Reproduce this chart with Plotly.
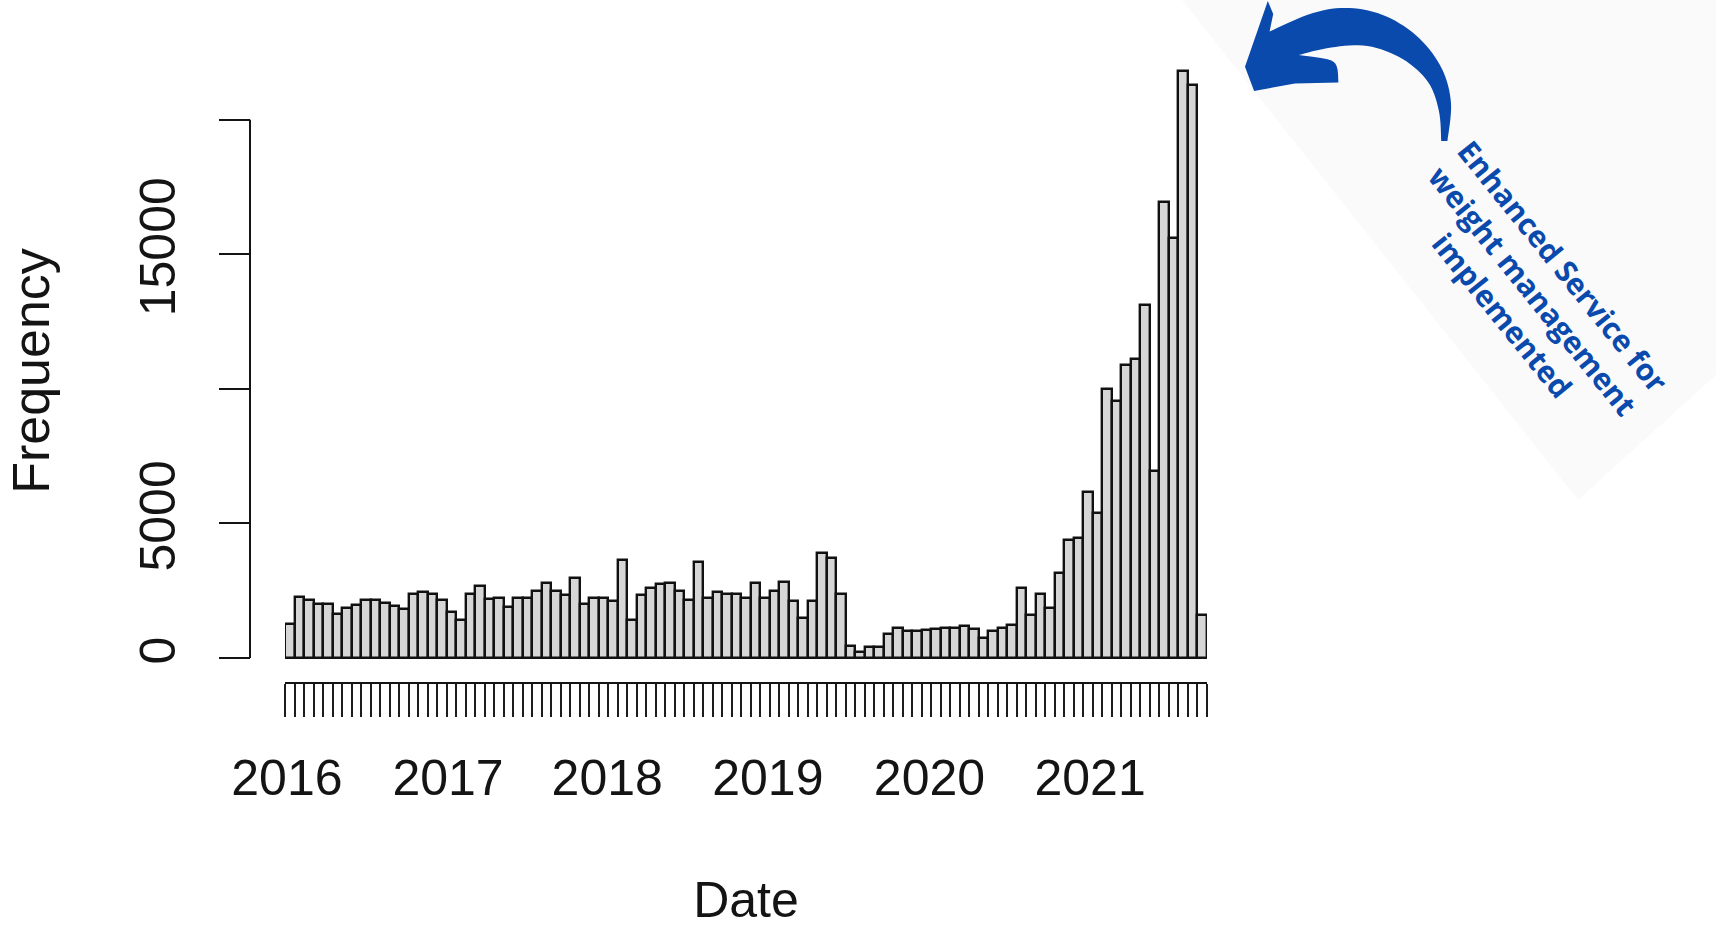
import numpy as np
import plotly.graph_objects as go

# ---------------- data ----------------
counts = [1270, 2270, 2140, 2020, 2020, 1640, 1840, 1970, 2140, 2140,
          2060, 1920, 1820, 2360, 2450, 2360, 2140, 1700, 1400, 2370,
          2680, 2190, 2220, 1890, 2240, 2240, 2490, 2800, 2500, 2350,
          2970, 2000, 2220, 2220, 2130, 3630, 1400, 2350, 2610, 2740,
          2800, 2490, 2170, 3580, 2220, 2470, 2390, 2360, 2240, 2780,
          2220, 2480, 2810, 2120, 1500, 2100, 3900, 3720, 2390, 460,
          235, 390, 390, 890, 1100, 1020, 1000, 1040, 1070, 1100,
          1130, 1180, 1090, 755, 1000, 1110, 1240, 2600, 1600, 2360,
          1860, 3160, 4400, 4470, 6170, 5400, 10010, 9540, 10880, 11110,
          13130, 6940, 16940, 15610, 21800, 21270, 1610]
year_labels = ["2016", "2017", "2018", "2019", "2020", "2021"]
year_positions = [0.2, 17.15, 33.9, 50.8, 67.8, 84.7]   # in bin units
ytick_vals = [0, 5000, 10000, 15000, 20000]
ytick_text = ["0", "5000", "", "15000", ""]
annotation_lines = ["Enhanced Service for", "weight management", "implemented"]

W, H = 1716, 928
def px(x):
    return x / W
def py(y):
    return 1 - y / H

n = len(counts)
x_centres = np.arange(n) + 0.5

FONT = "Liberation Sans, Arial, Helvetica, sans-serif"
INK = "#141414"
BLUE = "#0a4aad"

fig = go.Figure()
fig.add_trace(go.Bar(
    x=x_centres, y=counts, width=1.0,
    marker=dict(color="#d6d6d6", line=dict(color="#111111", width=2.4)),
    showlegend=False, hoverinfo="x+y",
))

# ---------------- decorations ----------------
# faint background band behind the note
band = [(1182, 0), (1716, 0), (1716, 375), (1578, 500)]
path = "M " + " L ".join(f"{px(a):.5f},{py(b):.5f}" for a, b in band) + " Z"
fig.add_shape(type="path", path=path, xref="paper", yref="paper",
              fillcolor="#fafafb", line=dict(width=0), layer="below")

# curved arrow (catmull-rom smoothed outline)
def smooth(pts, steps=8):
    out = []
    P = [pts[0]] + pts + [pts[-1]]
    for i in range(1, len(P) - 2):
        p0, p1, p2, p3 = map(np.array, P[i - 1:i + 3])
        for t in np.linspace(0, 1, steps, endpoint=False):
            t2, t3 = t * t, t * t * t
            pt = 0.5 * ((2 * p1) + (-p0 + p2) * t + (2 * p0 - 5 * p1 + 4 * p2 - p3) * t2
                        + (-p0 + 3 * p1 - 3 * p2 + p3) * t3)
            out.append(tuple(pt))
    out.append(tuple(pts[-1]))
    return out

outer = [(1269.6, 31.5), (1313, 13), (1349.3, 8), (1386.5, 16.5), (1419.5, 38.5),
         (1442, 69), (1451, 103.3), (1447.4, 141)]
inner = [(1441.2, 141), (1438.9, 111), (1428, 82), (1402.6, 59), (1367.4, 46),
         (1331.2, 47.5), (1298.6, 55)]
head_low = [(1298.6, 55), (1327.5, 59.3), (1336.6, 66), (1338.4, 82.5)]
head_rest = [(1294.9, 83.5), (1254.1, 91), (1245, 66.7), (1267.8, 1.0), (1273.2, 14)]
pts = smooth(outer) + smooth(inner) + smooth(head_low, 4)[1:] + head_rest
apath = "M " + " L ".join(f"{px(a):.5f},{py(b):.5f}" for a, b in pts) + " Z"
fig.add_shape(type="path", path=apath, xref="paper", yref="paper",
              fillcolor=BLUE, line=dict(width=0))

# y axis line (R style: only from first to last tick)
fig.add_shape(type="line", xref="paper", yref="y",
              x0=px(250), x1=px(250), y0=ytick_vals[0], y1=ytick_vals[-1],
              line=dict(color=INK, width=2))

fig.add_annotation(
    text="<br>".join(annotation_lines), xref="paper", yref="paper",
    x=px(1533), y=py(290), xanchor="center", yanchor="middle",
    textangle=51, showarrow=False, align="center",
    font=dict(family="Open Sans, sans-serif", size=30, color=BLUE, weight="bold"),
)

fig.update_layout(
    width=W, height=H,
    margin=dict(l=0, r=0, t=0, b=0),
    paper_bgcolor="white", plot_bgcolor="white",
    bargap=0,
    font=dict(family=FONT, color=INK),
    xaxis=dict(
        domain=[px(285), px(1207)], range=[0, n], anchor="y",
        showgrid=False, zeroline=False,
        showline=True, linecolor=INK, linewidth=2,
        tickmode="array", tickvals=year_positions, ticktext=year_labels,
        ticks="outside", ticklen=33, tickcolor="rgba(0,0,0,0)",
        ticklabelstandoff=18,
        tickfont=dict(size=50, family=FONT, color=INK),
        minor=dict(tick0=0, dtick=1, ticks="outside", ticklen=33,
                   tickwidth=2.2, tickcolor="#1c1c1c", showgrid=False),
        title=dict(text="Date", font=dict(size=50, family=FONT, color=INK), standoff=82),
        automargin=False,
    ),
    yaxis=dict(
        domain=[py(682), py(60)], range=[-892, 22216],
        anchor="free", position=px(250),
        showgrid=False, zeroline=False, showline=False,
        tickmode="array", tickvals=ytick_vals, ticktext=ytick_text,
        tickangle=-90, ticks="outside", ticklen=31, tickwidth=2, tickcolor=INK,
        ticklabelstandoff=24,
        tickfont=dict(size=50, family=FONT, color=INK),
        title=dict(text="Frequency", font=dict(size=52, family=FONT, color=INK), standoff=62),
        automargin=False,
    ),
)

fig.write_html("out.html")
